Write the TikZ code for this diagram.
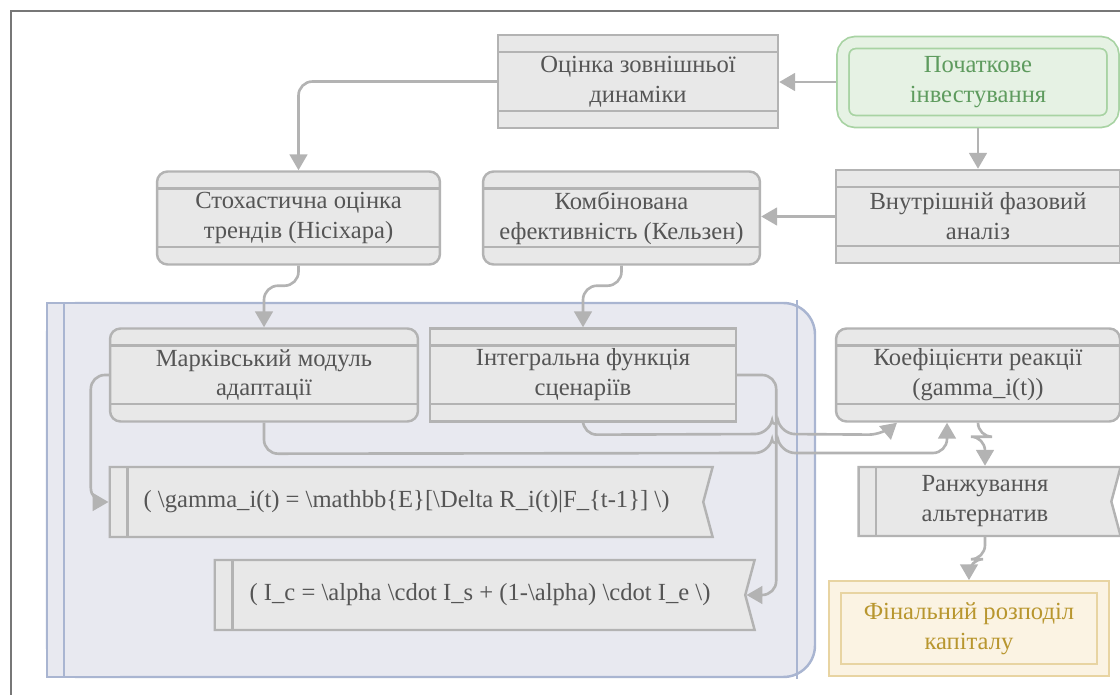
\documentclass[tikz,border=0pt]{standalone}
\usepackage{fontspec}
\setmainfont{Liberation Serif}
\usepackage{xcolor}
\usetikzlibrary{calc,arrows.meta,shapes.symbols}

\definecolor{boxfill}{HTML}{E8E8E8}
\definecolor{boxline}{HTML}{B3B3B3}
\definecolor{boxtext}{HTML}{555555}
\definecolor{greenfill}{HTML}{E6F2E4}
\definecolor{greenline}{HTML}{A8D3A3}
\definecolor{greentext}{HTML}{5E9B5E}
\definecolor{goldfill}{HTML}{FBF3E3}
\definecolor{goldline}{HTML}{E8D4A2}
\definecolor{goldtext}{HTML}{B8962E}
\definecolor{clusterfill}{HTML}{E8E9F0}
\definecolor{clusterline}{HTML}{A9B5D1}
\definecolor{framegray}{HTML}{777777}

\begin{document}
\begin{tikzpicture}[x=0.02cm, y=-0.02cm,
    every node/.style={font=\fontsize{14}{17}\selectfont, text=boxtext, align=center},
    bands/.style={path picture={\draw[boxline, line width=1.4pt]
        ([yshift=-9.8pt]path picture bounding box.north west) -- ([yshift=-9.8pt]path picture bounding box.north east)
        ([yshift=9.8pt]path picture bounding box.south west) -- ([yshift=9.8pt]path picture bounding box.south east);}},
    strip/.style={path picture={\draw[boxline, line width=1.4pt]
        ([xshift=10pt]path picture bounding box.north west) -- ([xshift=10pt]path picture bounding box.south west);}},
    proc/.style={draw=boxline, fill=boxfill, line width=1.4pt, minimum height=1.86cm, inner sep=2pt, bands},
    tape/.style={shape=signal, signal to=nowhere, signal from=east, signal pointer angle=150,
        draw=boxline, fill=boxfill, line width=1.4pt, minimum height=1.4cm, inner sep=2pt, strip},
    startbox/.style={draw=greenline, double=greenfill, double distance=5.8pt, line width=1pt,
        fill=greenfill, rounded corners=7pt, outer sep=3.9pt, text=greentext,
        minimum width=5.4cm, minimum height=1.58cm},
    endbox/.style={draw=goldline, double=goldfill, double distance=5.8pt, line width=1pt,
        fill=goldfill, outer sep=3.9pt, text=goldtext,
        minimum width=5.36cm, minimum height=1.66cm},
    flow/.style={draw=boxline, line width=1.5pt, rounded corners=8pt,
        -{Triangle[length=9pt,width=10pt]}}
]
    % Fix the page size
    \useasboundingbox (0,0) rectangle (1120,695);
    \clip (0,0) rectangle (1120,695);

    % Outer frame
    \draw[framegray, line width=1.4pt] (11,11) rectangle (1140,720);

    % Cluster background
    \draw[clusterline, fill=clusterfill, line width=1.4pt, rounded corners=18pt] (47,303) rectangle (815,677);
    \fill[clusterfill] (46,302) rectangle (120,678);
    \draw[clusterline, line width=1.4pt] (120,303) -- (47,303) -- (47,677) -- (120,677);
    \draw[clusterline, line width=1.4pt] (64,303) -- (64,677);
    \draw[clusterline, line width=1.4pt] (797,300) -- (797,679);

    % Top row
    \node[startbox] (init) at (978,82) {Початкове\\інвестування};
    \node[proc, minimum width=5.6cm] (ext) at (638,81.5) {Оцінка зовнішньої\\динаміки};

    % Second row
    \node[proc, rounded corners=6pt, minimum width=5.66cm] (stoch) at (298.5,218) {Стохастична оцінка\\трендів (Нісіхара)};
    \node[proc, rounded corners=6pt, minimum width=5.54cm] (comb) at (621.5,218) {Комбінована\\ефективність (Кельзен)};
    \node[proc, minimum width=5.68cm] (inner) at (978,216.5) {Внутрішній фазовий\\аналіз};

    % Third row
    \node[proc, rounded corners=6pt, minimum width=6.16cm] (markov) at (264,375) {Марківський модуль\\адаптації};
    \node[proc, minimum width=6.12cm] (integ) at (583,375) {Інтегральна функція\\сценаріїв};
    \node[proc, rounded corners=6pt, minimum width=5.68cm] (coef) at (978,375) {Коефіцієнти реакції\\(gamma\_i(t))};

    % Formulas
    \node[tape, minimum width=12.06cm] (gamma) at (406.5,502)
        {( \textbackslash gamma\_i(t) = \textbackslash mathbb\{E\}[\textbackslash Delta R\_i(t)|F\_\{t-1\}] \textbackslash)};
    \node[tape, minimum width=10.8cm] (Ic) at (480,595)
        {( I\_c = \textbackslash alpha \textbackslash cdot I\_s + (1-\textbackslash alpha) \textbackslash cdot I\_e \textbackslash)};

    % Right column
    \node[tape, minimum width=5.24cm, minimum height=1.38cm] (rank) at (985,501.5) {Ранжування\\альтернатив};
    \node[endbox] (final) at (969,628.5) {Фінальний розподіл\\капіталу};

    % Connectors
    \draw[flow] (init.west) -- (init.west -| ext.east);
    \draw[flow] (init.south) -- (inner.north);
    \draw[flow] (ext.west) -| (stoch.north);
    \draw[flow] (inner.west) -- (inner.west -| comb.east);
    \draw[flow] (stoch.south) -- ++(0,20) -| (markov.north);
    \draw[flow] (comb.south) -- ++(0,20) -| (integ.north);
    \draw[flow] (markov.west) -- ++(-18,0) |- (gamma.west);
    \draw[flow] (integ.east) -- ++(39,0) |- (Ic.east);
    \draw[flow] (integ.south) -- ++(0,12) -- (769,434) .. controls (771,425) and (779,425) .. (781,434)
        -- ($(coef.south)+(-95,12)$) -- ($(coef.south)+(-81,0)$);
    \draw[flow] (markov.south) -- ++(0,31) -- (769,453) .. controls (771,444) and (779,444) .. (781,453)
        -| ($(coef.south)+(-31,0)$);
    \draw[flow] (coef.south) -- ++(0,14) -| (rank.north);
    \draw[flow] (rank.south) -- ++(0,22) -| (final.north);
\end{tikzpicture}
\end{document}
